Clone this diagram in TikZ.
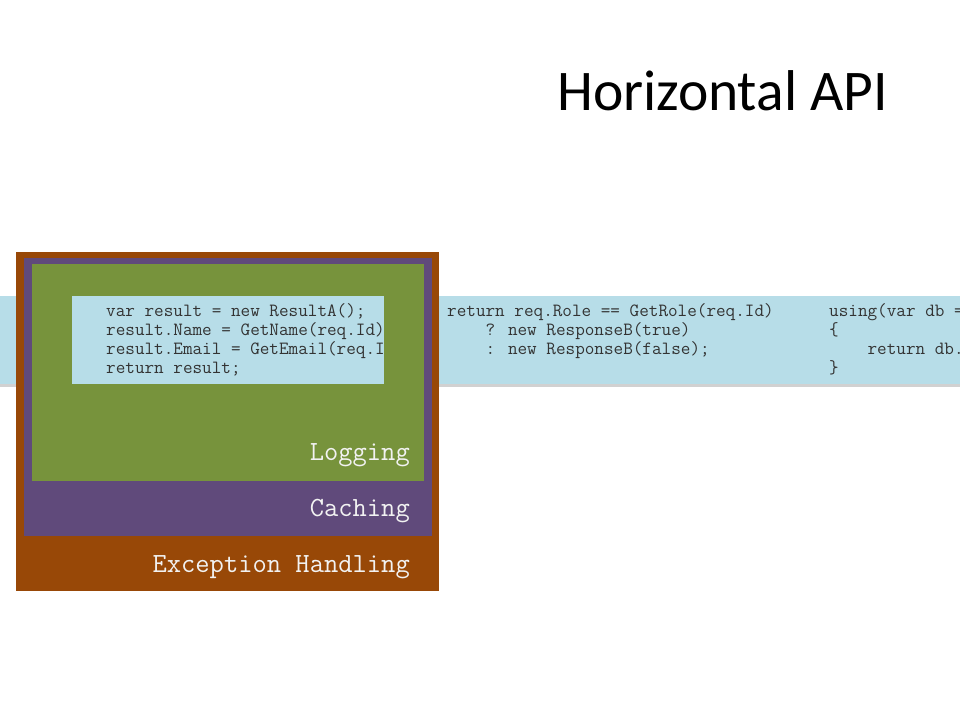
\documentclass[tikz,border=0pt]{standalone}
\usepackage{fontspec}
\setmainfont{Carlito}
\definecolor{bandblue}{HTML}{B7DDE8}
\definecolor{exorange}{HTML}{984807}
\definecolor{cachepurple}{HTML}{604A7B}
\definecolor{loggreen}{HTML}{77933C}
\definecolor{codegray}{HTML}{333333}
\definecolor{labelwhite}{HTML}{F2F2F2}
\begin{document}
\begin{tikzpicture}[x=1pt,y=-1pt,
  codetxt/.style={anchor=base west,inner sep=0pt,font=\ttfamily\fontsize{18.65}{19.3}\selectfont,text=codegray},
  layerlabel/.style={anchor=base east,inner sep=0pt,font=\ttfamily\fontsize{27.75}{30}\selectfont,text=labelwhite}]
\useasboundingbox (0,0) rectangle (960,720);
% title
\node[anchor=base east,inner sep=0pt,font=\fontsize{57.5}{65}\selectfont] (title) at (888,110) {Horizontal API};
% band shadow and band
\fill[black!30,opacity=0.6] (0,298) rectangle (960,386.5);
\fill[bandblue] (0,296) rectangle (960,384);
% right code blocks
\node[codetxt] (b1) at (447,316) {return req.Role == GetRole(req.Id)};
\node[codetxt] (b2) at (447,335.3) {\hphantom{xxxx}? new ResponseB(true)};
\node[codetxt] (b3) at (447,354.6) {\hphantom{xxxx}: new ResponseB(false);};
\node[codetxt] (c1) at (829,316) {using(var db =};
\node[codetxt] (c2) at (829,335.3) {\{};
\node[codetxt] (c3) at (829,354.6) {\hphantom{xxxx}return db.};
\node[codetxt] (c4) at (829,373.9) {\}};
% layers
\fill[exorange] (16,252) rectangle (439,591);
\fill[cachepurple] (24,258) rectangle (432,536);
\fill[loggreen] (32,264) rectangle (424,481);
\fill[bandblue] (72,296) rectangle (384,384);
\begin{scope}
\clip (72,296) rectangle (384,384);
\node[codetxt] (a1) at (106,316) {var result = new ResultA();};
\node[codetxt] (a2) at (106,335.3) {result.Name = GetName(req.Id);};
\node[codetxt] (a3) at (106,354.6) {result.Email = GetEmail(req.Id);};
\node[codetxt] (a4) at (106,373.9) {return result;};
\end{scope}
\node[layerlabel] (logging) at (410,460) {Logging};
\node[layerlabel] (caching) at (410,516) {Caching};
\node[layerlabel] (exc) at (410,572) {Exception Handling};
\end{tikzpicture}
\end{document}
